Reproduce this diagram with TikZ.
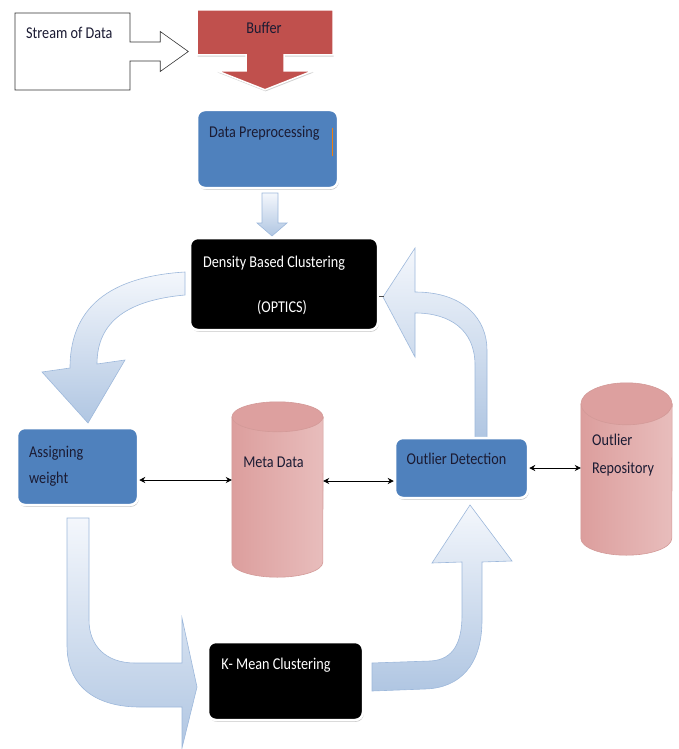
\documentclass[tikz,border=0pt]{standalone}
\usepackage{fontspec}
\setmainfont{Carlito}[FakeStretch=0.86]
\usetikzlibrary{positioning,calc,shapes.geometric,shapes.arrows,shadows,arrows.meta}
\definecolor{boxblue}{HTML}{4F81BD}
\definecolor{bufred}{HTML}{C0504D}
\definecolor{flowlight}{HTML}{F4F7FC}
\definecolor{flowdark}{HTML}{B0C6E2}
\definecolor{flowline}{HTML}{9DB8DB}
\definecolor{dbtop}{HTML}{DDA09F}
\definecolor{dbleft}{HTML}{DC9E9D}
\definecolor{dbmid}{HTML}{F3DFDE}
\definecolor{dbright}{HTML}{E8BDBC}
\definecolor{dbline}{HTML}{D39A98}
\definecolor{inktext}{HTML}{1B1B33}
\tikzset{
  glow/.style={draw=white, line width=2.5pt, rounded corners=8pt,
    drop shadow={shadow xshift=0.8pt, shadow yshift=-1.8pt, opacity=0.4, fill=black!55}},
  bluebox/.style={glow, fill=boxblue},
  blackbox/.style={glow, fill=black},
  database/.style={minimum width=91pt, inner sep=0pt},
  dbbody/.style={draw=dbline, line width=0.6pt, left color=dbleft, middle color=dbmid, right color=dbright},
  dbcap/.style={fill=dbtop, draw=dbline, line width=0.6pt},
  flow/.style={draw=flowline, line width=0.6pt, top color=flowlight, bottom color=flowdark},
  txt/.style={font=\fontsize{16.5}{18}\selectfont, inner sep=0pt, text=inktext},
  wtxt/.style={txt, text=white},
  link/.style={<->, >={Stealth[length=6pt,width=6pt]}, line width=0.8pt}
}
\begin{document}
\begin{tikzpicture}[x=1pt, y=-1pt]
    \useasboundingbox (0,0) rectangle (678,749);
    % block arrows of the loop
    \path[flow] (185,272) .. controls (120,276) and (70,300) .. (70,368) -- (42,372) -- (88,423)
        -- (125,360) -- (97,364) .. controls (97,320) and (130,300) .. (185,295) -- cycle;
    \path[flow] (475,438) -- (475,365) .. controls (475,330) and (450,313) .. (415,313) -- (415,357)
        -- (383,297) -- (415,248) -- (415,292) .. controls (465,292) and (487,320) .. (487,350)
        -- (487,438) -- cycle;
    \path[flow] (67,518) -- (67,645) .. controls (67,690) and (100,707) .. (140,707) -- (182,707)
        -- (182,748) -- (197,687) -- (182,618) -- (182,663) -- (135,663)
        .. controls (105,663) and (89,645) .. (89,620) -- (89,518) -- cycle;
    \path[flow] (372,663) -- (430,661) .. controls (455,660) and (462,640) .. (462,615) -- (462,562)
        -- (432,563) -- (470,505) -- (512,561) -- (482,562) -- (482,620)
        .. controls (482,665) and (460,688) .. (425,689) -- (372,691) -- cycle;
    \path[flow] (262,193) -- (278,193) -- (278,223) -- (287,223) -- (272,236) -- (257,223)
        -- (262,223) -- cycle;

    % input
    \node[arrow box, draw=black!80, line width=0.6pt, fill=white, arrow box arrows={east:58pt},
        arrow box shaft width=19pt, arrow box head extend=10.5pt, arrow box tip angle=71,
        minimum width=115pt, minimum height=77pt, inner sep=0pt] (stream) at (72.5,51.5) {};
    \node[txt, anchor=west] (streamtxt) at (26,33) {Stream of Data};
    \node[arrow box, fill=bufred, draw=white, line width=1.5pt, arrow box arrows={south:34pt},
        arrow box shaft width=38pt, arrow box head extend=29pt, arrow box tip angle=137,
        minimum width=136pt, minimum height=45pt, inner sep=0pt,
        drop shadow={shadow xshift=0.6pt, shadow yshift=-1.6pt, opacity=0.3, fill=black!60}]
        (buffer) at (265,32.5) {};
    \node[txt] (buffertxt) at (264,28) {Buffer};

    % processing boxes
    \node[bluebox, minimum width=141pt, minimum height=78pt] (prep) at (267.5,149) {};
    \node[txt, anchor=west] (preptxt) at (209,133) {Data Preprocessing};
    \draw[orange!80!brown, line width=1pt] (332,128) -- (332,156);
    \node[blackbox, minimum width=188pt, minimum height=92pt] (dense) at (284,284) {};
    \node[wtxt] (densetxt) at (274,263) {Density Based Clustering};
    \node[wtxt] (opticstxt) at (282,308) {(OPTICS)};
    \node[bluebox, minimum width=121pt, minimum height=77pt] (assign) at (77.5,466.5) {};
    \node[txt, anchor=west, align=left, font=\fontsize{16.5}{26}\selectfont] (assigntxt) at (29,466) {Assigning\\weight};
    \node[bluebox, minimum width=133pt, minimum height=60pt] (detect) at (461.5,468) {};
    \node[txt] (detecttxt) at (456.5,459) {Outlier Detection};
    \node[blackbox, minimum width=155pt, minimum height=78pt] (kmean) at (285.5,681) {};
    \node[wtxt] (kmeantxt) at (276,665) {K- Mean Clustering};

    % databases
    \node[database, minimum height=175pt] (meta) at (277.5,489.5) {};
    \path[dbbody] ([yshift=-15pt]meta.north west) -- ([yshift=15pt]meta.south west)
        arc[start angle=180, end angle=360, x radius=45.5pt, y radius=15pt]
        -- ([yshift=-15pt]meta.north east) -- cycle;
    \path[dbcap] ([yshift=-15pt]meta.north) ellipse [x radius=45.5pt, y radius=15pt];
    \node[txt] (metatxt) at (273.5,462) {Meta Data};
    \node[database, minimum height=172pt] (repo) at (626.5,469) {};
    \path[dbbody] ([yshift=-21pt]repo.north west) -- ([yshift=17pt]repo.south west)
        arc[start angle=180, end angle=360, x radius=45.5pt, y radius=17pt]
        -- ([yshift=-21pt]repo.north east) -- cycle;
    \path[dbcap] ([yshift=-21pt]repo.north) ellipse [x radius=45.5pt, y radius=21pt];
    \node[txt, anchor=west, align=left, font=\fontsize{16.5}{28}\selectfont] (repotxt) at (592,455) {Outlier\\Repository};

    % links
    \draw[black!70, line width=0.8pt] ([yshift=-12pt]dense.east) -- (384,296);
    \draw[link] ([yshift=-13.5pt]assign.east) -- ([yshift=-13.5pt]assign.east -| meta.west);
    \draw[link] ([yshift=-13pt]detect.west -| meta.east) -- ([yshift=-13pt]detect.west);
    \draw[link] (detect.east) -- (detect.east -| repo.west);
\end{tikzpicture}
\end{document}
